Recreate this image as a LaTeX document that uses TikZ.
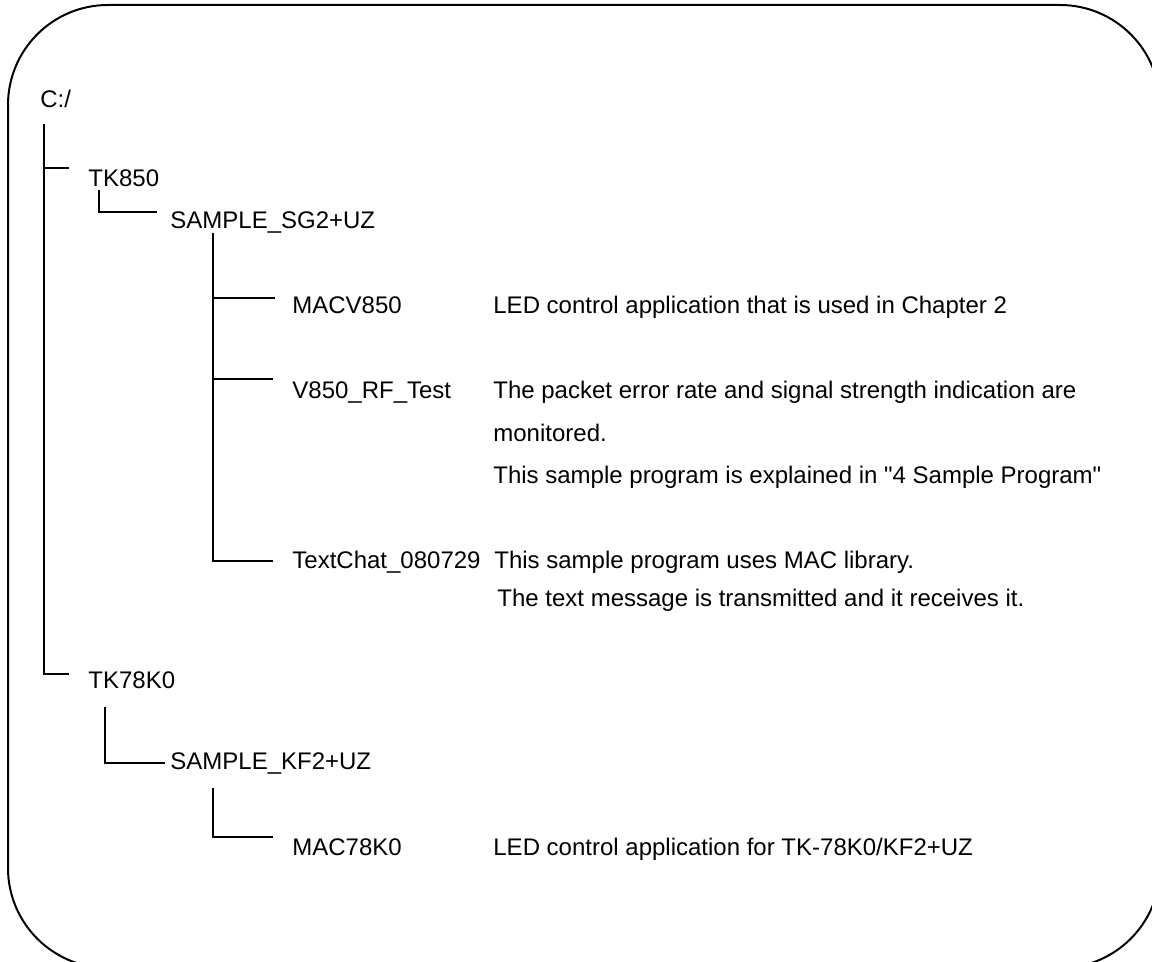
\documentclass[tikz,border=0pt]{standalone}
\usepackage{fontspec}
\setmainfont{Liberation Sans}
\usetikzlibrary{positioning}

\begin{document}
\begin{tikzpicture}[x=0.5pt, y=-0.5pt,
    lbl/.style={anchor=base west, inner sep=0pt, font=\fontsize{12}{14}\selectfont},
    tree/.style={draw=black, line width=0.8pt},
    frame/.style={draw=black, line width=1pt, rounded corners=50pt}
]
\useasboundingbox (0,0) rectangle (1152,962);

% Outer frame (runs past the right and bottom edges)
\begin{scope}
\clip (0,0) rectangle (1152,962);
\draw[frame] (8,5) rectangle (1160,968);
\end{scope}

% Root
\node[lbl] (root) at (40,108) {C:/};

% TK850 branch
\node[lbl] (tkv) at (88,187) {TK850};
\node[lbl] (sgtwo) at (170,229) {SAMPLE\_SG2+UZ};
\node[lbl] (macv) at (292,314) {MACV850};
\node[lbl] (rftest) at (292,399) {V850\_RF\_Test};
\node[lbl] (chat) at (292,569) {TextChat\_080729};

% TK78K0 branch
\node[lbl] (tkk) at (88,689) {TK78K0};
\node[lbl] (kftwo) at (170,769) {SAMPLE\_KF2+UZ};
\node[lbl] (mack) at (292,855) {MAC78K0};

% Descriptions
\node[lbl] (macvdesc) at (493,314) {LED control application that is used in Chapter 2};
\node[lbl] (rfdesca) at (493,399) {The packet error rate and signal strength indication are};
\node[lbl] (rfdescb) at (493,442) {monitored.};
\node[lbl] (rfdescc) at (493,484) {This sample program is explained in \textquotedbl 4 Sample Program\textquotedbl};
\node[lbl] (chatdesca) at (494,569) {This sample program uses MAC library.};
\node[lbl] (chatdescb) at (497,607) {The text message is transmitted and it receives it.};
\node[lbl] (mackdesc) at (493,855) {LED control application for TK-78K0/KF2+UZ};

% Tree lines
\coordinate (rootTop) at (44,124);
\coordinate (tkvStub) at (69,168);
\coordinate (tkkStub) at (69,674);
\draw[tree] (rootTop) |- (tkkStub);
\draw[tree] (rootTop |- tkvStub) -- (tkvStub);

\coordinate (tkvDrop) at (99,190);
\coordinate (sgtwoStub) at (157,212);
\draw[tree] (tkvDrop) |- (sgtwoStub);

\coordinate (sgtwoDrop) at (213,233);
\coordinate (macvStub) at (275,298);
\coordinate (rftestStub) at (273,379);
\coordinate (chatStub) at (273,561);
\draw[tree] (sgtwoDrop) |- (chatStub);
\draw[tree] (sgtwoDrop |- macvStub) -- (macvStub);
\draw[tree] (sgtwoDrop |- rftestStub) -- (rftestStub);

\coordinate (tkkDrop) at (105,707);
\coordinate (kftwoStub) at (165,763);
\draw[tree] (tkkDrop) |- (kftwoStub);

\coordinate (kftwoDrop) at (213,788);
\coordinate (mackStub) at (273,837);
\draw[tree] (kftwoDrop) |- (mackStub);

\end{tikzpicture}
\end{document}
